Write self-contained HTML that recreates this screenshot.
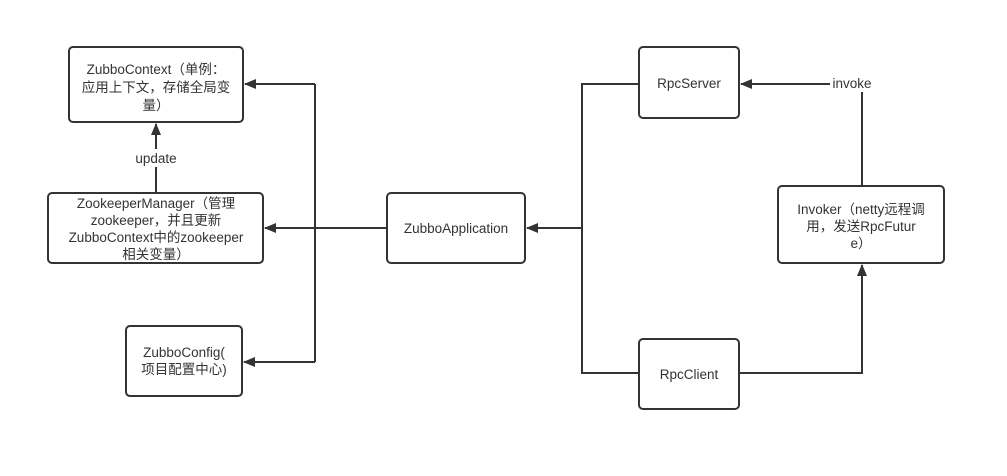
<!DOCTYPE html>
<html><head><meta charset="utf-8"><style>
html,body{margin:0;padding:0;background:#fff;}
svg text{font-family:"Liberation Sans","Noto Sans CJK SC",sans-serif;font-size:13.5px;fill:#333;text-anchor:middle;}
</style></head><body>
<svg width="1007" height="471" xmlns="http://www.w3.org/2000/svg">
<defs><marker id="a" markerWidth="12" markerHeight="10" refX="11" refY="5" orient="auto" markerUnits="userSpaceOnUse"><path d="M0,0 L12,5 L0,10 Z" fill="#333"/></marker></defs>
<g fill="#fff" stroke="#333" stroke-width="2">
<rect x="69" y="47" width="174" height="75" rx="4"/>
<rect x="48" y="193" width="215" height="70" rx="4"/>
<rect x="126" y="326" width="116" height="70" rx="4"/>
<rect x="387" y="193" width="138" height="70" rx="4"/>
<rect x="639" y="47" width="100" height="71" rx="4"/>
<rect x="639" y="339" width="100" height="70" rx="4"/>
<rect x="778" y="186" width="166" height="77" rx="4"/>
</g>
<g fill="none" stroke="#333" stroke-width="2">
<path d="M315,84 V362"/>
<path d="M315,84 H245" marker-end="url(#a)"/>
<path d="M315,362 H244" marker-end="url(#a)"/>
<path d="M387,228 H265" marker-end="url(#a)"/>
<path d="M156,193 V124" marker-end="url(#a)"/>
<path d="M639,84 H582 V373 H639"/>
<path d="M582,228 H527" marker-end="url(#a)"/>
<path d="M739,373 H862 V265" marker-end="url(#a)"/>
<path d="M862,186 V92"/>
<path d="M830,84 H741" marker-end="url(#a)"/>
</g>
<rect x="130" y="149" width="52" height="18" fill="#fff"/>
<text x="156" y="163">update</text>
<text x="852" y="88">invoke</text>
<text x="156" y="74">ZubboContext（单例：</text>
<text x="156" y="92">应用上下文，存储全局变</text>
<text x="156" y="110">量）</text>
<text x="156" y="208">ZookeeperManager（管理</text>
<text x="156" y="225">zookeeper，并且更新</text>
<text x="156" y="242">ZubboContext中的zookeeper</text>
<text x="156" y="259">相关变量）</text>
<text x="184" y="357">ZubboConfig(</text>
<text x="184" y="374">项目配置中心)</text>
<text x="456" y="233">ZubboApplication</text>
<text x="689" y="88">RpcServer</text>
<text x="689" y="379">RpcClient</text>
<text x="861" y="214">Invoker（netty远程调</text>
<text x="861" y="231">用，发送RpcFutur</text>
<text x="861" y="248">e）</text>
</svg>
</body></html>
